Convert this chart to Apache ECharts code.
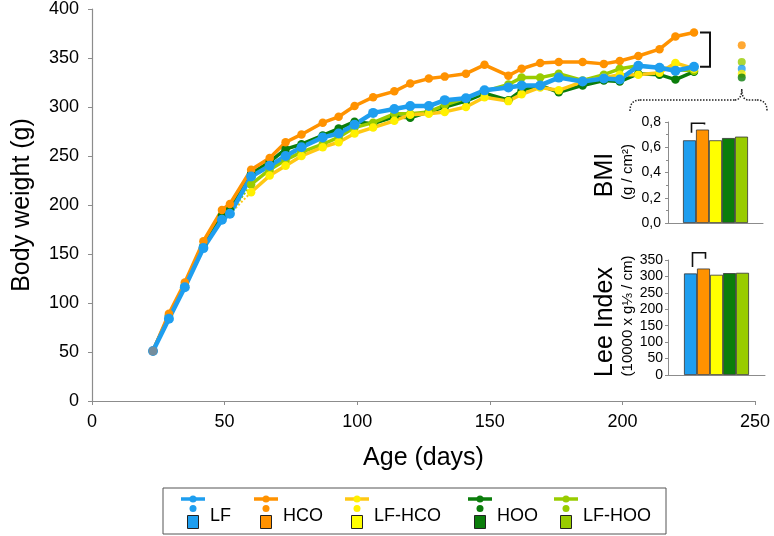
<!DOCTYPE html>
<html><head><meta charset="utf-8">
<script src="https://cdn.jsdelivr.net/npm/echarts@6/dist/echarts.min.js"></script>
<style>html,body{margin:0;padding:0;background:#fff}#c{width:774px;height:536px}</style>
</head><body><div id="c"></div>
<script>
// ---------- DATA ----------
const days = [23, 29, 35, 42, 49, 52, 60, 67, 73, 79, 87, 93, 99, 106, 114, 120, 127, 133, 141, 148, 157, 162, 169, 176, 185, 193, 199, 206, 214, 220, 227];
const groups = ['LF', 'HCO', 'LF-HCO', 'HOO', 'LF-HOO'];
const weightLF    = [51, 84, 116, 156, 185, 191, 229, 240, 250, 259, 269, 273, 282, 294, 298, 301, 301, 307, 309, 317, 320, 322, 322, 330, 326, 329, 328, 342, 340, 337, 341];
const weightHCO   = [51, 89, 121, 163, 195, 201, 236, 248, 264, 272, 284, 290, 301, 310, 316, 324, 329, 331, 334, 343, 332, 339, 345, 346, 346, 344, 347, 352, 359, 372, 376];
const weightLFHCO = [null, null, null, null, null, null, 213, 230, 240, 250, 259, 264, 273, 279, 286, 292, 293, 295, 300, 310, 306, 313, 320, 317, 326, 330, 333, 333, 335, 345, 339];
const weightHOO   = [51, 87, 118, 158, 189, 195, 232, 244, 257, 262, 271, 278, 285, 283, 290, 289, 295, 300, 306, 314, 307, 317, 322, 315, 322, 327, 326, 334, 333, 328, 336];
const weightLFHOO = [null, null, null, null, null, null, 221, 236, 246, 254, 262, 269, 279, 284, 293, 293, 295, 302, 309, 316, 323, 330, 330, 334, 327, 333, 339, 342, 340, 338, 337];
const finalDay = 245;
const finalWeight = [339, 363, 334, 330, 346];   // LF, HCO, LF-HCO, HOO, LF-HOO
const bmi = [0.655, 0.74, 0.655, 0.673, 0.684];
const leeIndex = [309, 324, 305, 310, 311];

// ---------- STYLE ----------
const lineColors = ['#1E9EEF', '#FF9200', '#FFC814', '#0B7D0B', '#99CC00'];
const dotColors  = ['#1E9EEF', '#FF9200', '#FFF000', '#0B7D0B', '#99CC00'];
const barColors  = ['#1E9EEF', '#FF9200', '#FFFF00', '#0B7D0B', '#99CC00'];
const FONT = 'Liberation Sans, Arial, sans-serif';
const weights = [weightLF, weightHCO, weightLFHCO, weightHOO, weightLFHOO];

const chart = echarts.init(document.getElementById('c'), null, {renderer: 'canvas'});

function pairs(vals) {
  return days.map((d, i) => vals[i] == null ? null : [d, vals[i]]).filter(p => p);
}

const series = [];
const order = [3, 4, 2, 1, 0];   // draw order bottom -> top
order.forEach(g => {
  series.push({
    name: groups[g], type: 'line', xAxisIndex: 0, yAxisIndex: 0,
    data: pairs(weights[g]),
    symbol: 'circle', symbolSize: g === 0 ? 10 : 8.5,
    lineStyle: {width: g === 0 ? 4.5 : 3.5, color: lineColors[g]},
    itemStyle: {color: dotColors[g], borderWidth: 0},
    z: 3, silent: true
  });
});
[2, 4].forEach(g => {
  series.push({
    type: 'line', xAxisIndex: 0, yAxisIndex: 0,
    data: [[days[5], weightLF[5]], [days[6], weights[g][6]]],
    symbol: 'none',
    lineStyle: {width: 2, type: [2, 2], color: lineColors[g]},
    z: 2, silent: true
  });
});
series.push({
  type: 'scatter', xAxisIndex: 0, yAxisIndex: 0,
  data: [[days[0], weightLF[0]]], symbolSize: 9,
  itemStyle: {color: '#888888'}, z: 20, silent: true
});
series.push({
  type: 'scatter', xAxisIndex: 0, yAxisIndex: 0,
  data: [1, 4, 0, 2, 3].map(g => ({value: [finalDay, finalWeight[g]], itemStyle: {color: dotColors[g]}})),
  symbolSize: 8, z: 6, silent: true
});
groups.forEach((name, g) => {
  series.push({
    type: 'bar', xAxisIndex: 1, yAxisIndex: 1, data: [bmi[g]],
    barWidth: 13, barGap: '0%',
    itemStyle: {color: barColors[g], borderColor: '#333', borderWidth: 0.8}, silent: true
  });
  series.push({
    type: 'bar', xAxisIndex: 2, yAxisIndex: 2, data: [leeIndex[g]],
    barWidth: 13, barGap: '0%',
    itemStyle: {color: barColors[g], borderColor: '#333', borderWidth: 0.8}, silent: true
  });
});

const axisGray = '#8c8c8c';
const option = {
  animation: false,
  backgroundColor: '#fff',
  textStyle: {fontFamily: FONT},
  grid: [
    {left: 92, top: 9, width: 663, height: 392},
    {left: 668, top: 122, width: 95, height: 101},
    {left: 668, top: 260, width: 97, height: 115}
  ],
  xAxis: [
    {gridIndex: 0, type: 'value', min: 0, max: 250, interval: 50,
     name: 'Age (days)', nameLocation: 'middle', nameGap: 45,
     nameTextStyle: {fontSize: 25, color: '#000', fontFamily: FONT},
     axisLine: {show: true, lineStyle: {color: axisGray, width: 1.2}},
     axisTick: {show: true, inside: false, length: 4, lineStyle: {color: axisGray}},
     axisLabel: {fontSize: 18, color: '#000', margin: 12, fontFamily: FONT},
     splitLine: {show: false}},
    {gridIndex: 1, type: 'category', data: [''],
     axisLine: {lineStyle: {color: axisGray}}, axisTick: {show: false}, axisLabel: {show: false}},
    {gridIndex: 2, type: 'category', data: [''],
     axisLine: {lineStyle: {color: axisGray}}, axisTick: {show: false}, axisLabel: {show: false}}
  ],
  yAxis: [
    {gridIndex: 0, type: 'value', min: 0, max: 400, interval: 50,
     name: 'Body weight (g)', nameLocation: 'middle', nameGap: 57, nameRotate: 90,
     nameTextStyle: {fontSize: 25, color: '#000', fontFamily: FONT},
     axisLine: {show: true, lineStyle: {color: axisGray, width: 1.2}},
     axisTick: {show: true, length: 4, lineStyle: {color: axisGray}},
     axisLabel: {fontSize: 18, color: '#000', margin: 13, fontFamily: FONT},
     splitLine: {show: false}},
    {gridIndex: 1, type: 'value', min: 0, max: 0.8, interval: 0.2,
     axisLine: {show: true, lineStyle: {color: axisGray}},
     axisTick: {show: true, length: 3, lineStyle: {color: axisGray}},
     minorTick: {show: true, splitNumber: 2, length: 2, lineStyle: {color: axisGray}},
     axisLabel: {fontSize: 14, color: '#000', margin: 7, fontFamily: FONT,
                 formatter: v => v.toFixed(1).replace('.', ',')},
     splitLine: {show: false}},
    {gridIndex: 2, type: 'value', min: 0, max: 350, interval: 50,
     axisLine: {show: true, lineStyle: {color: axisGray}},
     axisTick: {show: true, length: 3, lineStyle: {color: axisGray}},
     axisLabel: {fontSize: 14, color: '#000', margin: 5, fontFamily: FONT},
     splitLine: {show: false}}
  ],
  series: series
};
chart.setOption(option);

// ---------- ANNOTATIONS ----------
const G = [];
const P0 = (x, y) => chart.convertToPixel({xAxisIndex: 0, yAxisIndex: 0}, [x, y]);
const P1 = (v) => chart.convertToPixel({xAxisIndex: 1, yAxisIndex: 1}, [0, v]);
const P2 = (v) => chart.convertToPixel({xAxisIndex: 2, yAxisIndex: 2}, [0, v]);
const last = days.length - 1;

{
  const top = P0(days[last], weightHCO[last]);
  const bot = P0(days[last], weightLF[last]);
  const xr = top[0] + 16, xl = top[0] + 6;
  G.push({type: 'polyline', shape: {points: [[xl, top[1]], [xr, top[1]], [xr, bot[1]], [xl, bot[1]]]},
          style: {stroke: '#111', lineWidth: 2, fill: null}, z: 10});
}
// dotted brace
{
  const peak = P0(finalDay, 0)[0];
  const yb = 100, yp = 89, ye = 111, xl = 630, xr = 767;
  const st = {stroke: '#222', lineWidth: 1.5, fill: null, lineDash: [1.5, 1.5]};
  const segs = [
    {type: 'bezierCurve', shape: {x1: xl, y1: ye, x2: xl + 10, y2: yb, cpx1: xl, cpy1: yb}},
    {type: 'line', shape: {x1: xl + 10, y1: yb, x2: peak - 7, y2: yb}},
    {type: 'bezierCurve', shape: {x1: peak - 7, y1: yb, x2: peak, y2: yp, cpx1: peak, cpy1: yb}},
    {type: 'bezierCurve', shape: {x1: peak, y1: yp, x2: peak + 7, y2: yb, cpx1: peak, cpy1: yb}},
    {type: 'line', shape: {x1: peak + 7, y1: yb, x2: xr - 10, y2: yb}},
    {type: 'bezierCurve', shape: {x1: xr - 10, y1: yb, x2: xr, y2: ye, cpx1: xr, cpy1: yb}}
  ];
  segs.forEach(s => { s.style = st; s.z = 10; G.push(s); });
}
function barX(g, P) { const c = P(0)[0]; return c + (g - 2) * 13 + 2; }
{
  const xa = barX(0, P1), xb = barX(1, P1);
  const yTop = P1(Math.max(bmi[0], bmi[1]) + 0.05)[1];
  const yA = P1(bmi[0] + 0.06)[1], yB = P1(bmi[1] + 0.04)[1];
  G.push({type: 'polyline', shape: {points: [[xa, yA], [xa, yTop], [xb, yTop], [xb, yB]]},
          style: {stroke: '#111', lineWidth: 1.6, fill: null}, z: 10});
}
{
  const xa = barX(0, P2), xb = barX(1, P2);
  const yTop = P2(Math.max(leeIndex[0], leeIndex[1]) + 48)[1];
  const yA = P2(leeIndex[0] + 20)[1], yB = P2(leeIndex[1] + 30)[1];
  G.push({type: 'polyline', shape: {points: [[xa, yA], [xa, yTop], [xb, yTop], [xb, yB]]},
          style: {stroke: '#111', lineWidth: 1.6, fill: null}, z: 10});
}
function vtext(x, y, text, size) {
  G.push({type: 'text', x: x, y: y, rotation: Math.PI / 2,
          style: {text: text, fontSize: size, fontFamily: FONT, fill: '#000', align: 'center', verticalAlign: 'middle'}, z: 10});
}
vtext(605, 175, 'BMI', 25);
vtext(628, 172, '(g / cm²)', 15);
vtext(605, 322, 'Lee Index', 25);
vtext(628, 316, '(10000 x g⅓ / cm)', 15);

G.push({type: 'rect', shape: {x: 163, y: 488, width: 503, height: 46},
        style: {stroke: '#555', lineWidth: 1, fill: null}, z: 10});
const legendX = [193, 266, 357, 480, 566];
groups.forEach((name, g) => {
  const cx = legendX[g];
  G.push({type: 'line', shape: {x1: cx - 12, y1: 499, x2: cx + 12, y2: 499},
          style: {stroke: lineColors[g], lineWidth: 3.5}, z: 10});
  G.push({type: 'circle', shape: {cx: cx, cy: 499, r: 3.5}, style: {fill: dotColors[g]}, z: 11});
  G.push({type: 'circle', shape: {cx: cx, cy: 508.5, r: 3.5}, style: {fill: dotColors[g]}, z: 11});
  G.push({type: 'rect', shape: {x: cx - 5.5, y: 515.5, width: 11, height: 13},
          style: {fill: barColors[g], stroke: '#222', lineWidth: 1}, z: 11});
  G.push({type: 'text', x: cx + 17, y: 516,
          style: {text: name, fontSize: 18, fontFamily: FONT, fill: '#000', verticalAlign: 'middle'}, z: 11});
});

chart.setOption({graphic: G});
</script>
</body></html>
